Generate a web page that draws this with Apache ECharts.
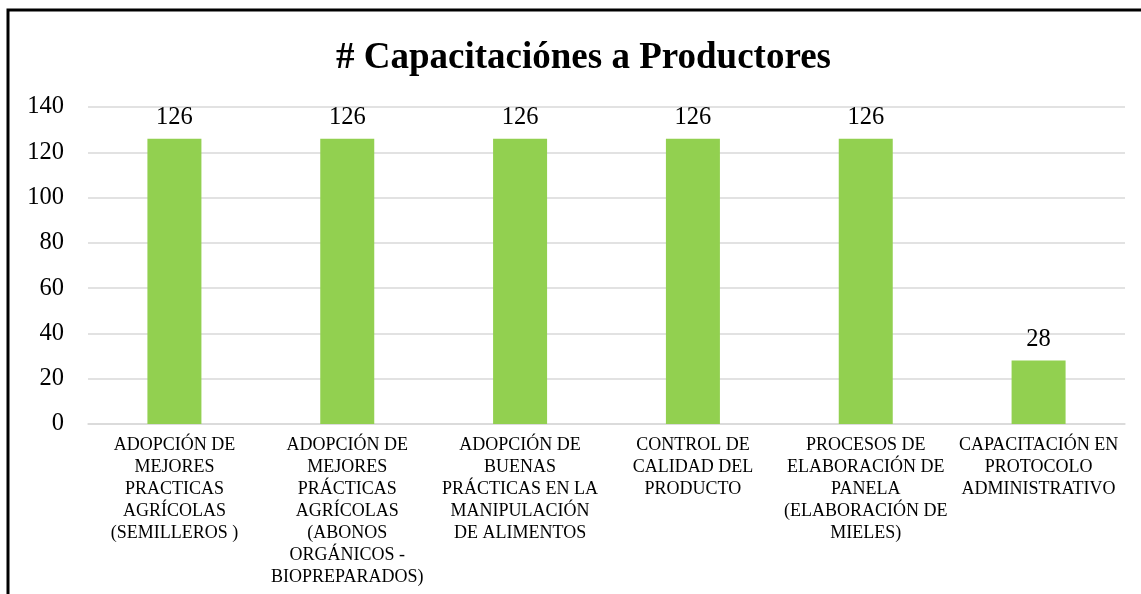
<!DOCTYPE html>
<html>
<head>
<meta charset="utf-8">
<script src="https://cdn.jsdelivr.net/npm/echarts@6/dist/echarts.min.js"></script>
<style>
  html, body { margin: 0; padding: 0; background: #fff; }
  #chart { width: 1141px; height: 594px; }
</style>
</head>
<body>
<div id="chart"></div>
<script>
// categories, broken into lines like the original
const categories = [
    'ADOPCIÓN DE\nMEJORES\nPRACTICAS\nAGRÍCOLAS\n(SEMILLEROS )',
    'ADOPCIÓN DE\nMEJORES\nPRÁCTICAS\nAGRÍCOLAS\n(ABONOS\nORGÁNICOS -\nBIOPREPARADOS)',
    'ADOPCIÓN DE\nBUENAS\nPRÁCTICAS EN LA\nMANIPULACIÓN\nDE ALIMENTOS',
    'CONTROL DE\nCALIDAD DEL\nPRODUCTO',
    'PROCESOS DE\nELABORACIÓN DE\nPANELA\n(ELABORACIÓN DE\nMIELES)',
    'CAPACITACIÓN EN\nPROTOCOLO\nADMINISTRATIVO'
];
const capacitaciones = [126, 126, 126, 126, 126, 28];
const yTicks = [0, 20, 40, 60, 80, 100, 120, 140];

const serif = '"Liberation Serif", "Times New Roman", serif';
const chart = echarts.init(document.getElementById('chart'));

const option = {
    animation: false,
    backgroundColor: '#fff',
    title: {
        text: '# Capacitaciónes a Productores',
        left: 331,
        top: 35,
        textStyle: { fontFamily: serif, fontSize: 37, fontWeight: 'bold', color: '#000' }
    },
    graphic: [{
        type: 'rect',
        shape: { x: 8, y: 10, width: 1200, height: 700 },
        style: { fill: 'none', stroke: '#000', lineWidth: 3 },
        silent: true
    }],
    grid: { left: 88, right: 16, top: 107, bottom: 170 },
    xAxis: {
        type: 'category',
        data: categories,
        axisTick: { show: false },
        axisLine: { lineStyle: { color: '#d9d9d9', width: 1.5 } },
        axisLabel: {
            interval: 0,
            margin: 10,
            color: '#000',
            fontFamily: serif,
            fontSize: 18,
            lineHeight: 22
        }
    },
    yAxis: {
        type: 'value',
        min: yTicks[0],
        max: yTicks[yTicks.length - 1],
        interval: 20,
        axisLine: { show: false },
        axisTick: { show: false },
        splitLine: { lineStyle: { color: '#d9d9d9', width: 1.5 } },
        axisLabel: { color: '#000', fontFamily: serif, fontSize: 24.5, margin: 24 }
    },
    series: [{
        type: 'bar',
        data: capacitaciones,
        barWidth: 54,
        itemStyle: { color: '#92D050' },
        label: {
            show: true,
            position: 'top',
            distance: 9,
            color: '#000',
            fontFamily: serif,
            fontSize: 24.5
        }
    }]
};

chart.setOption(option);
</script>
</body>
</html>
